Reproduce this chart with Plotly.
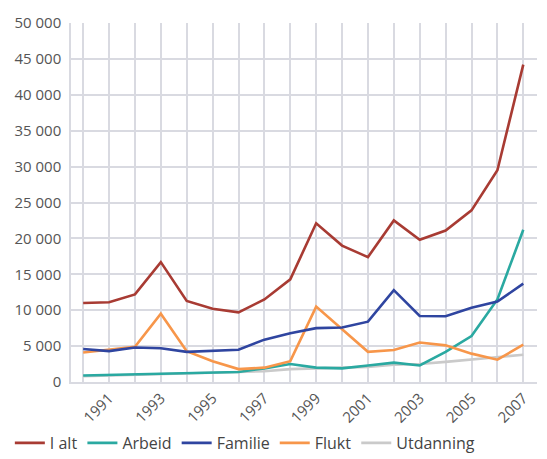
import plotly.graph_objects as go

years = list(range(1990, 2008))
i_alt = [11000, 11100, 12200, 16700, 11300, 10200, 9700, 11500, 14300, 22100,
         19000, 17400, 22500, 19800, 21100, 23900, 29500, 44200]
arbeid = [900, 1000, 1100, 1100, 1200, 1300, 1400, 1900, 2500, 2000,
          1900, 2300, 2700, 2300, 4200, 6400, 11500, 21200]
familie = [4600, 4300, 4800, 4700, 4200, 4300, 4500, 5900, 6800, 7500,
           7600, 8400, 12800, 9200, 9150, 10350, 11200, 13700]
flukt = [4100, 4500, 4900, 9500, 4300, 2900, 1800, 2000, 2900, 10500,
         7300, 4200, 4450, 5500, 5100, 3950, 3100, 5200]
utdanning = [800, 900, 1000, 1000, 1100, 1200, 1300, 1500, 1800, 1900,
             1900, 2100, 2400, 2500, 2800, 3100, 3400, 3800]

series = [
    ("I alt", i_alt, "#a83b33"),
    ("Arbeid", arbeid, "#2aa9a1"),
    ("Familie", familie, "#2f45a0"),
    ("Flukt", flukt, "#f7964a"),
    ("Utdanning", utdanning, "#cacaca"),
]

tick_text = [str(y) if y % 2 == 1 else "" for y in years]
y_ticks = list(range(0, 50001, 5000))
y_text = [f"{v:,}".replace(",", " ") for v in y_ticks]

fig = go.Figure()
order = [4, 1, 3, 2, 0]
for idx in order:
    name, vals, col = series[idx]
    fig.add_trace(go.Scatter(x=years, y=vals, mode="lines", name=name,
                             line=dict(color=col, width=2.6), legendrank=idx + 1))

fig.update_layout(
    width=547, height=459,
    margin=dict(l=71, r=10, t=23, b=77, autoexpand=False),
    paper_bgcolor="white", plot_bgcolor="white",
    font=dict(family="Open Sans", size=14, color="#555555"),
    showlegend=True,
    legend=dict(orientation="h", xref="container", yref="container",
                x=0.018, xanchor="left", y=0.072, yanchor="top",
                font=dict(size=16, color="#444444"), traceorder="normal"),
)
fig.update_xaxes(range=[1989.53, 2007.53], tickvals=years, ticktext=tick_text,
                 tickangle=-45, showgrid=True, gridcolor="#d9dae1", gridwidth=1.5,
                 showline=True, linecolor="#d9dae1", linewidth=1.5, zeroline=False,
                 ticks="", automargin=False, tickfont=dict(size=15, color="#555555"))
fig.update_yaxes(range=[0, 50000], tickvals=y_ticks, ticktext=y_text,
                 showgrid=True, gridcolor="#d9dae1", gridwidth=1.5,
                 showline=True, linecolor="#d9dae1", linewidth=1.5, zeroline=False,
                 ticks="", ticklabelstandoff=5, automargin=False,
                 tickfont=dict(size=15, color="#555555"))

fig.write_html("out.html", config={"displayModeBar": False},
               post_script="document.body.style.margin='0px';document.body.style.overflow='hidden';")
